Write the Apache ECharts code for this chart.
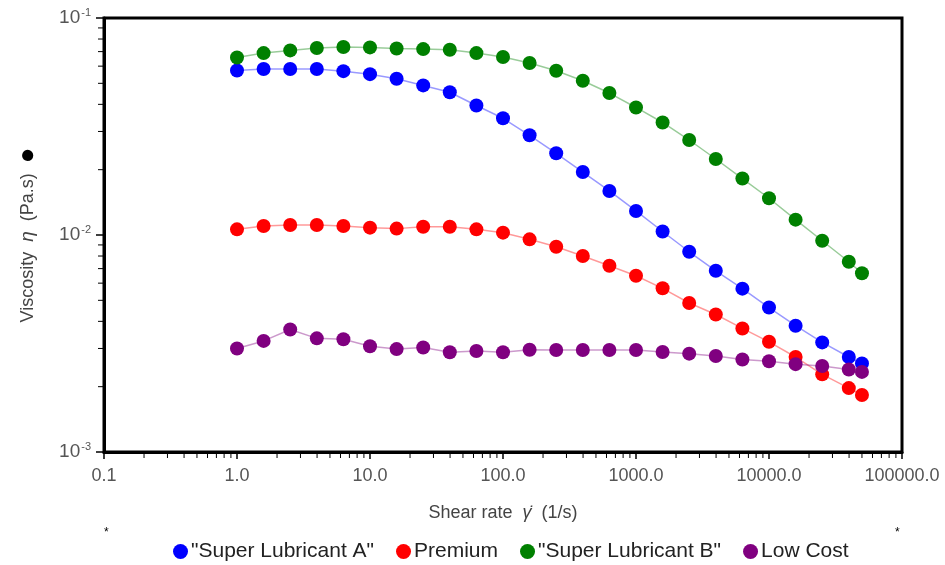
<!DOCTYPE html>
<html>
<head>
<meta charset="utf-8">
<script src="https://cdn.jsdelivr.net/npm/echarts@6/dist/echarts.min.js"></script>
<style>
  html, body { margin: 0; padding: 0; background: #fff; }
  #main { width: 945px; height: 565px; }
</style>
</head>
<body>
<div id="main"></div>
<script>
// 剪切速率 (1/s)
const shearRate = [1, 1.585, 2.512, 3.981, 6.31, 10, 15.85, 25.12, 39.81, 63.1,
  100, 158.5, 251.2, 398.1, 631, 1000, 1585, 2512, 3981, 6310,
  10000, 15850, 25120, 39810, 50000]

// 粘度 (Pa.s)
const superA = [0.0573, 0.0582, 0.0582, 0.0582, 0.0569, 0.0551, 0.0525, 0.0489, 0.0455, 0.0395,
  0.0345, 0.0288, 0.0238, 0.0195, 0.01596, 0.01291, 0.01038, 0.00837, 0.00684, 0.00566,
  0.00463, 0.00382, 0.0032, 0.00274, 0.00256]
const premium = [0.01062, 0.0110, 0.01112, 0.01112, 0.0110, 0.01081, 0.0107, 0.01092, 0.01092, 0.01062,
  0.01025, 0.00955, 0.00883, 0.0080, 0.00722, 0.00649, 0.00568, 0.00486, 0.0043, 0.00371,
  0.00322, 0.00274, 0.00228, 0.00197, 0.00183]
const superB = [0.0658, 0.0689, 0.0709, 0.0727, 0.0735, 0.0732, 0.0724, 0.0719, 0.0714, 0.0689,
  0.0661, 0.062, 0.0571, 0.0514, 0.0451, 0.0387, 0.033, 0.0274, 0.0224, 0.0182,
  0.01477, 0.01177, 0.00941, 0.00753, 0.00666]
const lowCost = [0.0030, 0.00325, 0.00367, 0.00334, 0.00331, 0.00307, 0.00298, 0.00303, 0.00288, 0.00292,
  0.00288, 0.00296, 0.00295, 0.00295, 0.00295, 0.00295, 0.00289, 0.00284, 0.00277, 0.00267,
  0.00262, 0.00254, 0.00249, 0.0024, 0.00234]

const seriesNames = ['"Super Lubricant A"', 'Premium', '"Super Lubricant B"', 'Low Cost']
const seriesColors = ['#0000ff', '#ff0000', '#008000', '#800080']
const seriesData = [superA, premium, superB, lowCost]

let myChart = echarts.init(document.getElementById('main'))

function makeSeries(i) {
  return {
    name: seriesNames[i],
    type: 'line',
    symbol: 'circle',
    symbolSize: 14,
    color: seriesColors[i],
    lineStyle: { width: 1.5, opacity: 0.4 },
    itemStyle: { color: seriesColors[i] },
    emphasis: { disabled: true },
    animation: false,
    data: shearRate.map((x, k) => [x, seriesData[i][k]])
  }
}

let option = {
  animation: false,
  textStyle: { fontFamily: 'Liberation Sans, Arial, sans-serif' },
  grid: {
    left: 104,
    right: 43,
    top: 18,
    bottom: 113,
    show: true,
    borderColor: '#000',
    borderWidth: 3
  },
  legend: {
    top: 536,
    left: 168,
    icon: 'circle',
    itemWidth: 15,
    itemHeight: 15,
    itemGap: 22,
    textStyle: { fontSize: 21, color: '#222', padding: [0, 0, 0, -2] },
    data: seriesNames
  },
  xAxis: {
    type: 'log',
    logBase: 10,
    min: 0.1,
    max: 100000,
    splitNumber: 6,
    name: '{t|Shear rate  }{e|γ\u0307}{t|  (1/s)}',
    nameLocation: 'middle',
    nameGap: 52,
    nameTextStyle: {
      rich: {
        t: { fontSize: 18, color: '#444' },
        e: { fontSize: 18, color: '#444', fontStyle: 'italic' }
      }
    },
    axisLine: { show: true, lineStyle: { color: '#000', width: 3 } },
    axisTick: { show: true, length: 7, lineStyle: { color: '#000', width: 1.5 } },
    axisLabel: {
      fontSize: 18,
      color: '#555',
      margin: 15,
      formatter: v => Number(v).toFixed(1)
    },
    splitLine: { show: false }
  },
  yAxis: {
    type: 'log',
    logBase: 10,
    min: 0.001,
    max: 0.1,
    splitNumber: 2,
    name: '{t|Viscosity  }{e|η}{t|  (Pa.s)  }{d|●}',
    nameLocation: 'middle',
    nameGap: 63,
    nameTextStyle: {
      rich: {
        t: { fontSize: 18, color: '#444' },
        e: { fontSize: 19, color: '#444', fontStyle: 'italic' },
        d: { fontSize: 26, color: '#000' }
      }
    },
    axisLine: { show: true, lineStyle: { color: '#000', width: 3 } },
    axisTick: { show: true, length: 8, lineStyle: { color: '#000', width: 1.5 } },
    axisLabel: {
      margin: 13,
      formatter: v => '{b|10}{s|' + Math.round(Math.log10(v)) + '}',
      rich: {
        b: { fontSize: 19, color: '#555' },
        s: { fontSize: 11, color: '#555', padding: [0, 0, 11, 1] }
      }
    },
    splitLine: { show: false }
  },
  series: [0, 1, 2, 3].map(makeSeries)
}
myChart.setOption(option)

// 对数轴的次刻度 2..9, 用 graphic 画
function drawExtras() {
  let g = []
  let yBottom = myChart.convertToPixel({ yAxisIndex: 0 }, 0.001)
  let xLeft = myChart.convertToPixel({ xAxisIndex: 0 }, 0.1)
  for (let e = -1; e < 5; e++) {
    for (let m = 2; m <= 9; m++) {
      let x = myChart.convertToPixel({ xAxisIndex: 0 }, m * Math.pow(10, e))
      g.push({ type: 'line', silent: true, shape: { x1: x, y1: yBottom, x2: x, y2: yBottom + 6 }, style: { stroke: '#000', lineWidth: 1 } })
    }
  }
  for (let e = -3; e < -1; e++) {
    for (let m = 2; m <= 9; m++) {
      let y = myChart.convertToPixel({ yAxisIndex: 0 }, m * Math.pow(10, e))
      g.push({ type: 'line', silent: true, shape: { x1: xLeft, y1: y, x2: xLeft - 6, y2: y }, style: { stroke: '#000', lineWidth: 1 } })
    }
  }
  // 角落的星号
  g.push({ type: 'text', left: 104, top: 527, style: { text: '*', fontSize: 12, fill: '#000' } })
  g.push({ type: 'text', left: 895, top: 527, style: { text: '*', fontSize: 12, fill: '#000' } })
  myChart.setOption({ graphic: g })
}
drawExtras()
</script>
</body>
</html>
